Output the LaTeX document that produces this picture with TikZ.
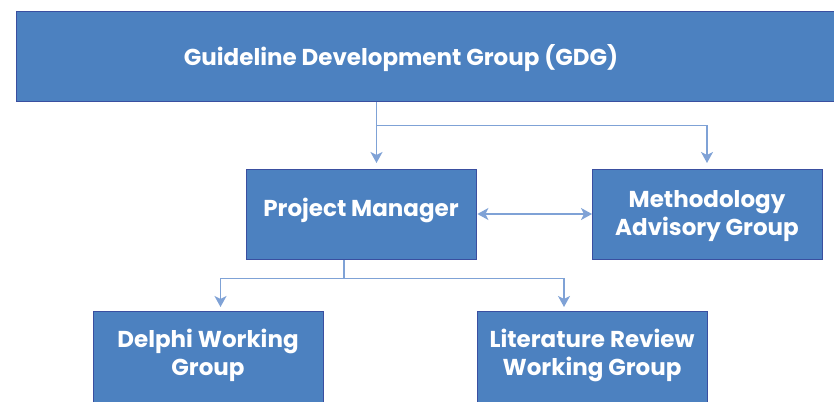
\documentclass[tikz,border=0pt]{standalone}
\usepackage{fontspec}
\setmainfont{Poppins}
\usetikzlibrary{arrows.meta}
\definecolor{boxfill}{HTML}{4C81C0}
\definecolor{boxedge}{HTML}{3A4FA0}
\definecolor{linkcol}{HTML}{7FA2D6}
\begin{document}
\begin{tikzpicture}[x=1pt,y=-1pt,
  orgbox/.style={draw=boxedge,line width=1.4pt,fill=boxfill,rectangle,
    minimum width=230pt,minimum height=90pt,inner sep=0pt,anchor=north west},
  label/.style={text=white,font=\fontsize{23}{28}\selectfont\bfseries,align=center,inner sep=0pt},
  link/.style={draw=linkcol,line width=1.4pt},
  tip/.style={-{Stealth[length=11pt,width=12pt,inset=3pt]}},
  dtip/.style={{Stealth[length=11pt,width=12pt,inset=3pt]}-{Stealth[length=11pt,width=12pt,inset=3pt]}}]
\useasboundingbox (0,0) rectangle (834,401);
\clip (0,0) rectangle (834,401);
% top group, running off the right edge
\node[orgbox,minimum width=840pt] (gdg) at (16,11) {};
\node[label] (gdgt) at (401,58.5) {Guideline Development Group (GDG)};
% second row
\node[orgbox] (pm) at (246,169) {};
\node[label] (pmt) at (361,210) {Project Manager};
\node[orgbox] (mag) at (592,169) {};
\node[label] (magt) at (707,216.5) {Methodology\\Advisory Group};
% third row, running off the bottom edge
\node[orgbox,minimum height=120pt] (dwg) at (93,311) {};
\node[label] (dwgt) at (208,355.5) {Delphi Working\\Group};
\node[orgbox,minimum height=120pt] (lrwg) at (477,311) {};
\node[label] (lrwgt) at (592,355.5) {Literature Review\\Working Group};
% connectors
\coordinate (j1) at (376.5,125.5);
\coordinate (j2) at (707,125.5);
\draw[link,tip] (gdg.south -| j1) -- ([yshift=6pt]pm.north -| j1);
\draw[link,tip] (j1) -- (j2) -- ([yshift=6pt]mag.north -| j2);
\draw[link,dtip] (pm.east |- 0,214) -- (mag.west |- 0,214);
\coordinate (j3) at (344,278.5);
\coordinate (j4) at (220.5,278.5);
\coordinate (j5) at (564,278.5);
\draw[link] (pm.south -| j3) -- (j3);
\draw[link,tip] (j3) -- (j4) -- ([yshift=4pt]dwg.north -| j4);
\draw[link,tip] (j3) -- (j5) -- ([yshift=4pt]lrwg.north -| j5);
\end{tikzpicture}
\end{document}
